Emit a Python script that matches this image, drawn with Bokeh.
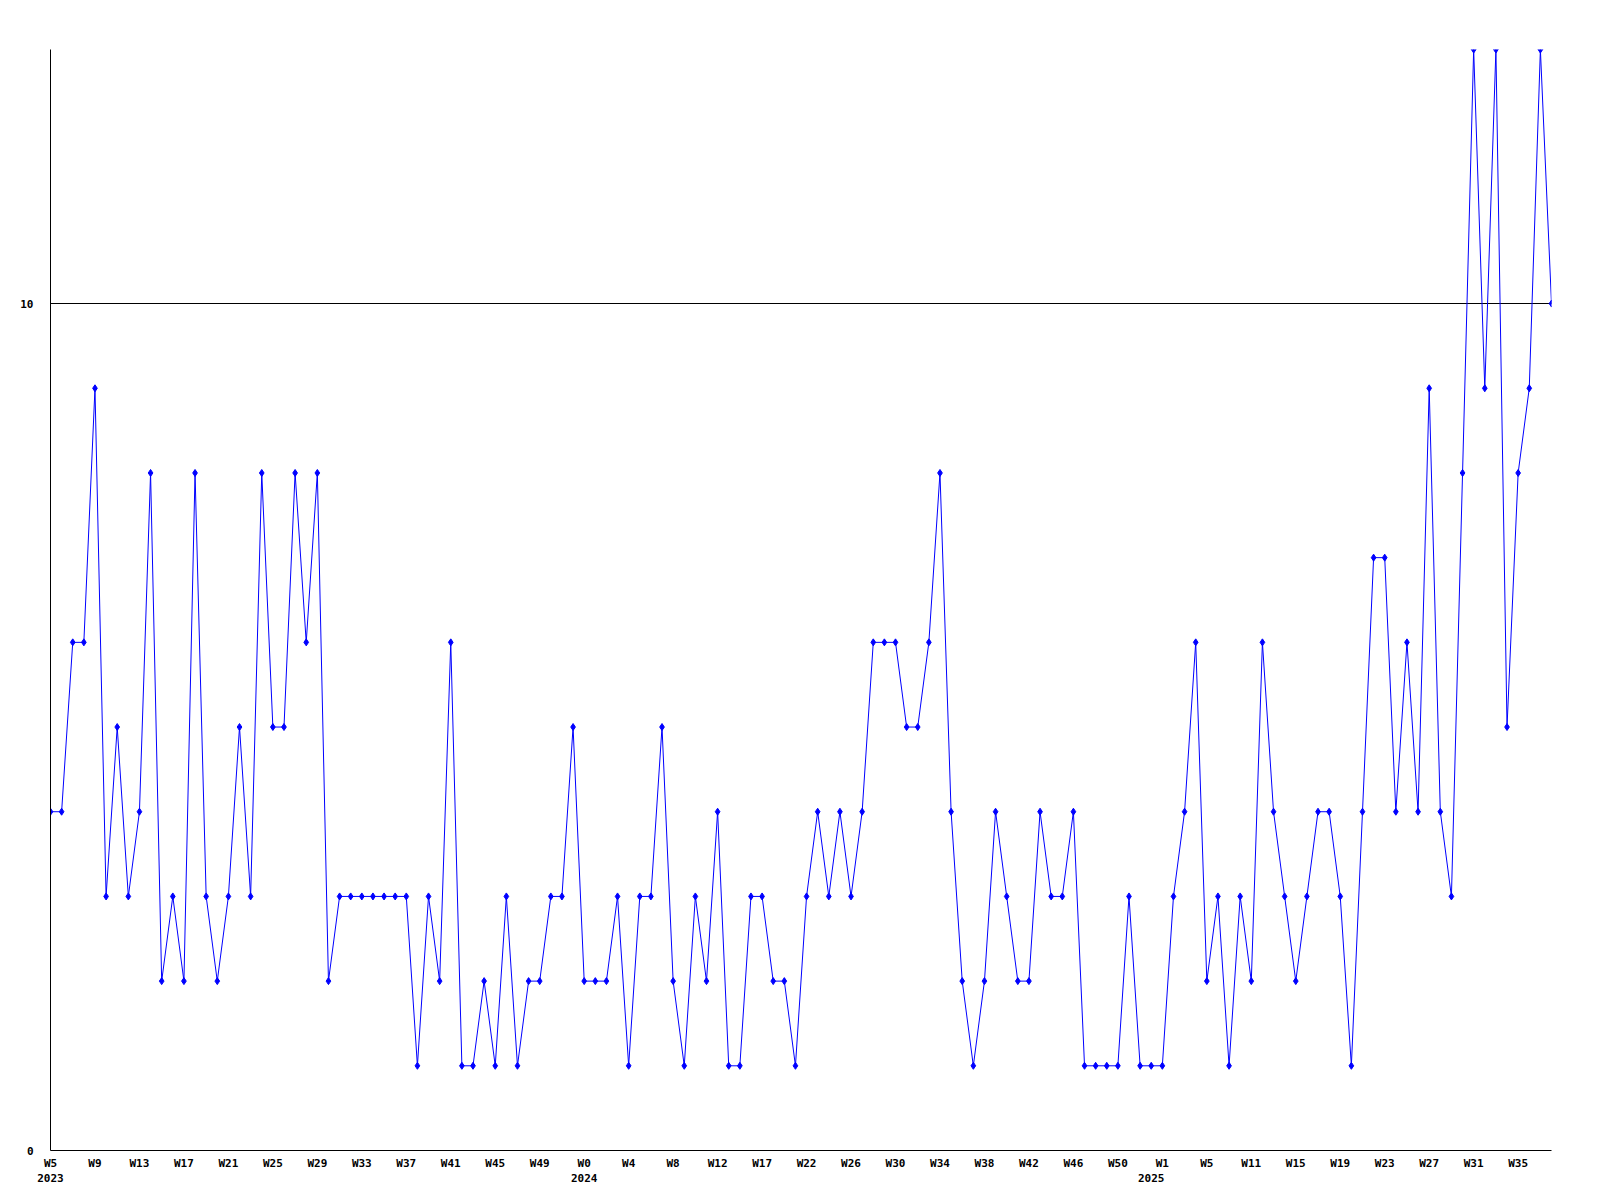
from bokeh.plotting import figure
from bokeh.models import ColumnDataSource, FixedTicker, Range1d, LinearAxis
from bokeh.embed import file_html
from bokeh.resources import INLINE

# weekly values, W5 2023 .. W36 2025
counts = [4, 4, 6, 6, 9, 3, 5, 3, 4, 8,
          2, 3, 2, 8, 3, 2, 3, 5, 3, 8,
          5, 5, 8, 6, 8, 2, 3, 3, 3, 3,
          3, 3, 3, 1, 3, 2, 6, 1, 1, 2,
          1, 3, 1, 2, 2, 3, 3, 5, 2, 2,
          2, 3, 1, 3, 3, 5, 2, 1, 3, 2,
          4, 1, 1, 3, 3, 2, 2, 1, 3, 4,
          3, 4, 3, 4, 6, 6, 6, 5, 5, 6,
          8, 4, 2, 1, 2, 4, 3, 2, 2, 4,
          3, 3, 4, 1, 1, 1, 1, 3, 1, 1,
          1, 3, 4, 6, 2, 3, 1, 3, 2, 6,
          4, 3, 2, 3, 4, 4, 3, 1, 4, 7,
          7, 4, 6, 4, 9, 4, 3, 8, 13, 9,
          13, 5, 8, 9, 13, 10]
week_index = list(range(1, len(counts) + 1))

week_labels = ["W5", "W9", "W13", "W17", "W21", "W25", "W29", "W33", "W37", "W41",
               "W45", "W49", "W0", "W4", "W8", "W12", "W17", "W22", "W26", "W30",
               "W34", "W38", "W42", "W46", "W50", "W1", "W5", "W11", "W15", "W19",
               "W23", "W27", "W31", "W35"]
week_label_pos = list(range(1, len(counts) + 1, 4))[:len(week_labels)]
year_labels = ["2023", "2024", "2025"]
year_label_pos = [1, 49, 100]
y_tick_values = [0, 10]
y_tick_labels = ["0", "10"]

FONT = "DejaVu Sans Mono"

p = figure(frame_width=1501, frame_height=1101,
           x_range=Range1d(1, len(counts)), y_range=Range1d(0, 13),
           output_backend="svg", toolbar_location=None,
           min_border_left=50, min_border_right=40,
           min_border_top=49, min_border_bottom=42)
p.outline_line_color = None
p.background_fill_color = "white"
p.border_fill_color = "white"


def style_axis(ax, line=True):
    ax.axis_line_color = "black" if line else None
    ax.axis_line_width = 1
    ax.major_tick_out = 0
    ax.major_tick_in = 0
    ax.minor_tick_out = 0
    ax.minor_tick_in = 0
    ax.major_label_text_font = FONT
    ax.major_label_text_font_style = "bold"
    ax.major_label_text_font_size = "11px"
    ax.major_label_text_color = "black"
    ax.major_label_text_align = "left"


xa = p.xaxis[0]
xa.ticker = FixedTicker(ticks=week_label_pos)
xa.major_label_overrides = {pos: lab for pos, lab in zip(week_label_pos, week_labels)}
style_axis(xa)
xa.major_label_standoff = 6

year_axis = LinearAxis(ticker=FixedTicker(ticks=year_label_pos),
                       major_label_overrides={pos: lab for pos, lab in zip(year_label_pos, year_labels)})
style_axis(year_axis, line=False)
year_axis.major_label_standoff = 1
p.add_layout(year_axis, "below")

ya = p.yaxis[0]
ya.ticker = FixedTicker(ticks=y_tick_values)
ya.major_label_overrides = {v: lab for v, lab in zip(y_tick_values, y_tick_labels)}
style_axis(ya)
ya.major_label_standoff = 17

p.xgrid.visible = False
p.ygrid[0].ticker = FixedTicker(ticks=[10])
p.ygrid[0].grid_line_color = "black"
p.ygrid[0].grid_line_alpha = 1.0
p.ygrid[0].grid_line_width = 1

src = ColumnDataSource(dict(x=week_index, y=counts))
p.line("x", "y", source=src, line_color="#0000ff", line_width=1)
p.scatter("x", "y", source=src, marker="diamond", size=7,
          fill_color="#0000ff", line_color="#0000ff")

open("out.html", "w").write(file_html(p, INLINE))
